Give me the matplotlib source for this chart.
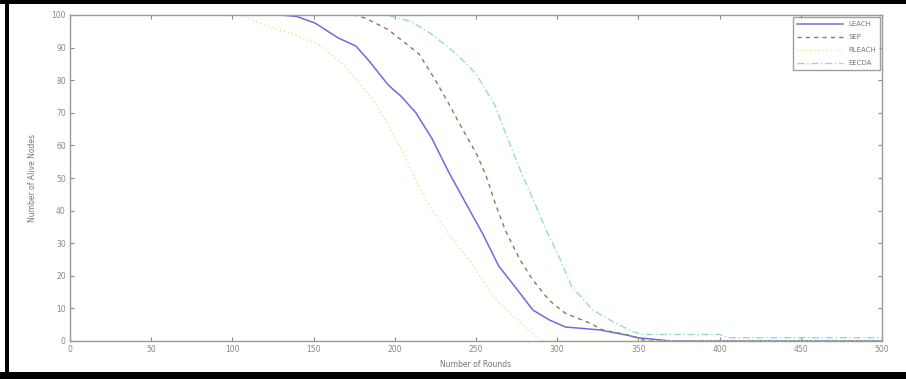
import matplotlib
matplotlib.use("Agg")
import matplotlib.pyplot as plt
from matplotlib.patches import Rectangle

# ---- data ----
leach_r = [0, 130, 140, 151, 165, 176, 184, 196, 204, 213, 223, 233, 244, 254, 264, 275, 285, 295, 305, 326, 343, 350, 370, 500]
leach_n = [100, 100, 99.5, 97.5, 93, 90.5, 86, 78.5, 75, 70, 62, 52, 42, 33, 23, 16, 9.5, 6.5, 4.3, 3.4, 1.8, 1, 0, 0]

sep_r = [0, 175, 182, 196, 215, 225, 233, 241, 250, 256, 262, 268, 277, 285, 295, 305, 320, 328, 344, 355, 500]
sep_n = [100, 100, 99, 95.5, 88, 80, 73, 65.6, 57.7, 51, 42, 34, 25, 18.7, 12.5, 8.5, 5.5, 3.4, 1.8, 0, 0]

rleach_r = [0, 105, 119, 135, 153, 170, 188, 203, 218, 233, 247, 260, 272, 281, 290, 500]
rleach_n = [100, 100, 97, 94.5, 91, 84, 73, 60, 44, 33, 24, 14, 8, 4, 0, 0]

eecda_r = [0, 195, 210, 223, 238, 250, 256, 262, 268, 278, 289, 295, 301, 309, 322, 334, 346, 352, 400, 405, 500]
eecda_n = [100, 100, 98, 94, 88, 82, 77, 72, 64, 51.5, 39, 32, 26, 16.6, 9.5, 6, 3, 2, 2, 1, 1]

labels = ["LEACH", "SEP", "RLEACH", "EECDA"]
x_ticks = list(range(0, 501, 50))
y_ticks = list(range(0, 101, 10))

W, H = 906, 379
fig = plt.figure(figsize=(W / 100, H / 100), dpi=100)
fig.patch.set_facecolor("white")

ax = fig.add_axes([70 / W, (H - 341) / H, (882 - 70) / W, (341 - 15) / H])

ax.plot(leach_r, leach_n, color="#6c6ce6", lw=1.1, ls="-", label=labels[0])
ax.plot(sep_r, sep_n, color="#7a8550", lw=1.0, ls=(0, (3, 3)), label=labels[1])
ax.plot(rleach_r, rleach_n, color="#e6e68c", lw=1.0, ls=(0, (1, 2)), label=labels[2])
ax.plot(eecda_r, eecda_n, color="#96dccc", lw=1.0, ls=(0, (5, 2, 1, 2)), label=labels[3])

ax.set_xlim(0, 500)
ax.set_ylim(0, 100)
ax.set_xticks(x_ticks)
ax.set_yticks(y_ticks)
ax.tick_params(direction="in", length=3, width=0.8, labelsize=5.5, colors="#888888",
               top=True, right=True, pad=3)
for s in ax.spines.values():
    s.set_color("#999999")
    s.set_linewidth(1.0)

ax.set_xlabel("Number of Rounds", fontsize=5.5, color="#777777", labelpad=4)
ax.set_ylabel("Number of Alive Nodes", fontsize=5.5, color="#777777", labelpad=10)

leg = ax.legend(loc="upper right", fontsize=5, frameon=True, fancybox=False,
                edgecolor="#888888", handlelength=6.5, borderaxespad=0.3,
                labelspacing=1.0, borderpad=0.6)
for t in leg.get_texts():
    t.set_color("#777777")

# black frame of the image
fig.add_artist(Rectangle((0, (H - 4) / H), 1, 4 / H, transform=fig.transFigure,
                         facecolor="black", edgecolor="none"))
fig.add_artist(Rectangle((0, 0), 1, 7 / H, transform=fig.transFigure,
                         facecolor="black", edgecolor="none"))
fig.add_artist(Rectangle((5 / W, 0), 4 / W, 1, transform=fig.transFigure,
                         facecolor="black", edgecolor="none"))

fig.savefig("out.png", dpi=100, facecolor="white")
